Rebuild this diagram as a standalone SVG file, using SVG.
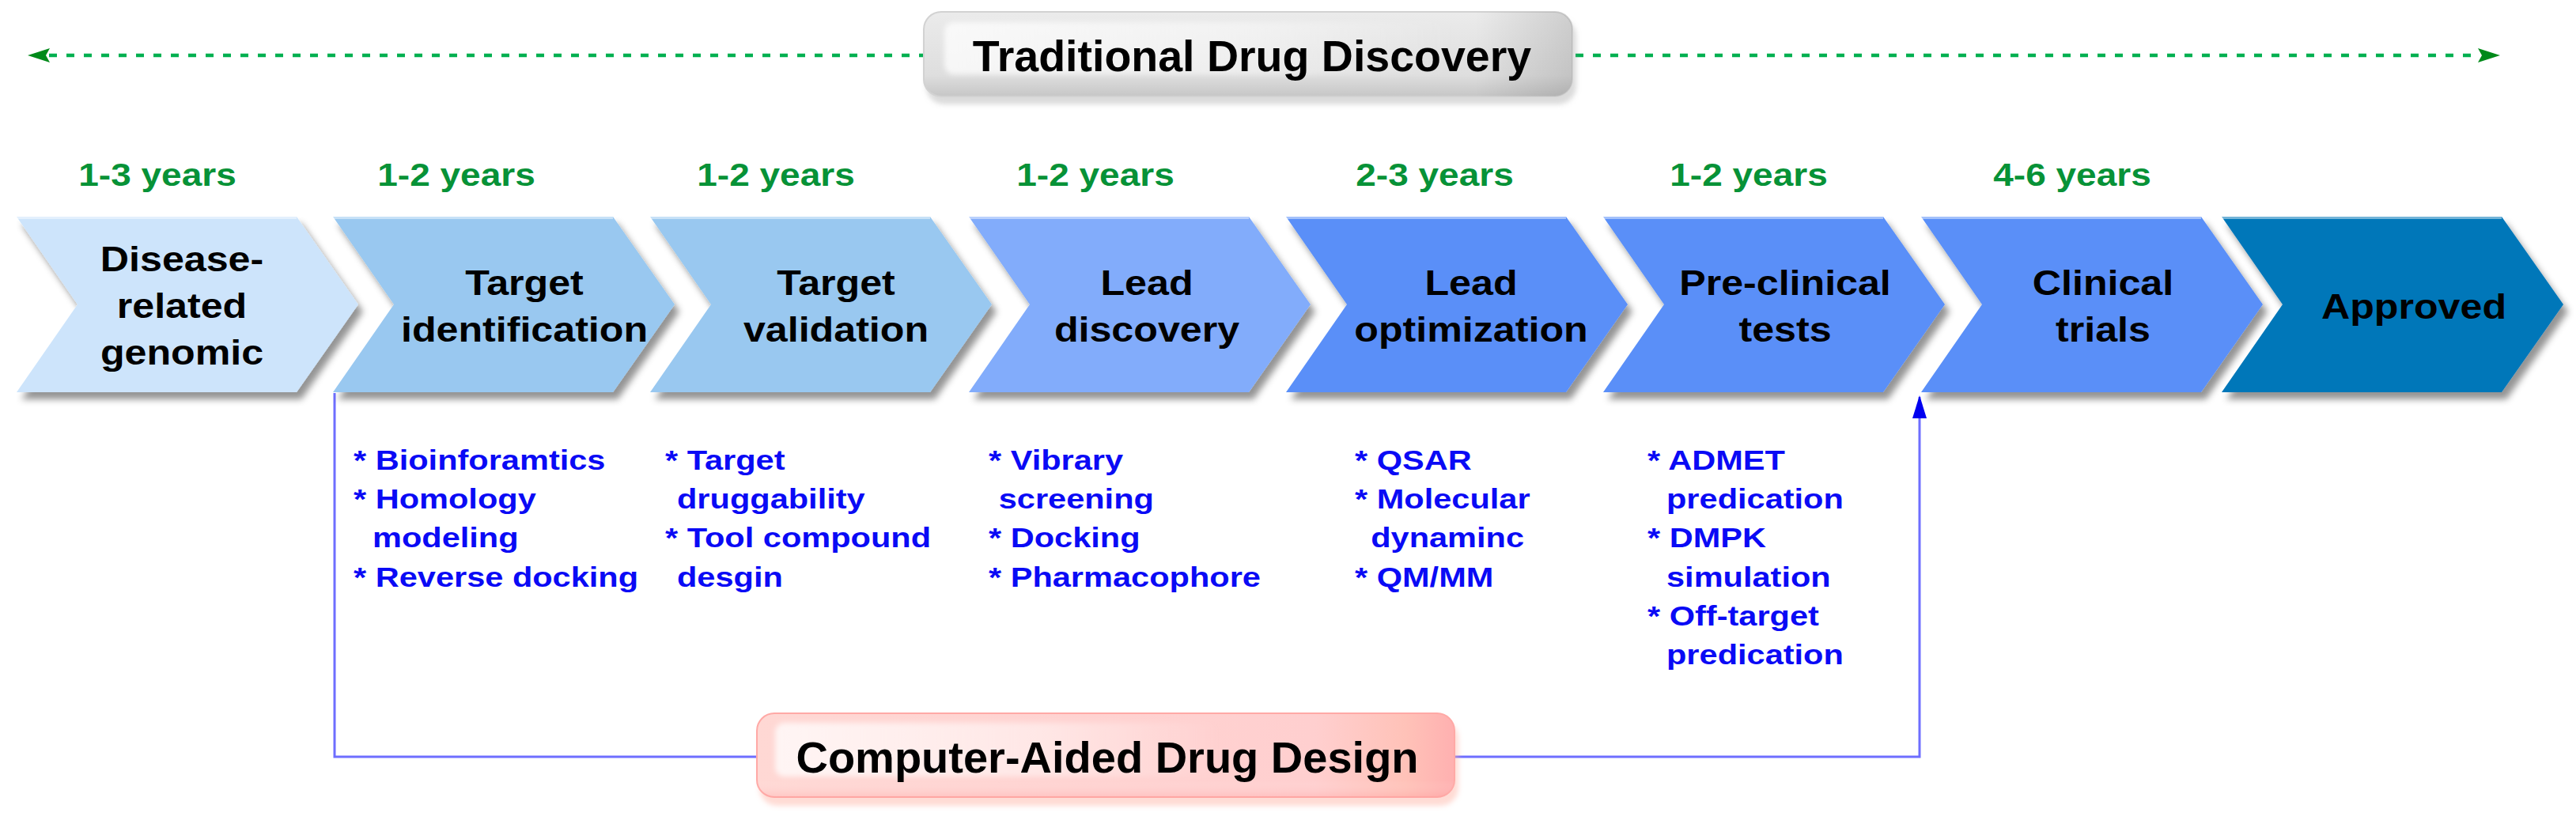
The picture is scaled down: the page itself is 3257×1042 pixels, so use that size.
<svg xmlns="http://www.w3.org/2000/svg" width="3257" height="1042" viewBox="0 0 3257 1042">
<defs>
<style>
text{font-family:"Liberation Sans",Arial,sans-serif;font-weight:bold}
.yr{font-size:40px;fill:#079237}
.ch{font-size:44px;fill:#000;text-anchor:middle}
.bl{font-size:36px;fill:#0a0af5}
.ttl{font-size:55.5px;fill:#000;text-anchor:middle}
.cad{font-size:56px;fill:#000;text-anchor:middle}
.hl{stroke:#ffffff;stroke-opacity:.45;stroke-width:3}
.dash{stroke:#00b050;stroke-width:4.5;stroke-dasharray:10 12;fill:none}
.link{stroke:#6e6eff;stroke-width:3;fill:none}
</style>
<path id="chev" d="M0,0 H354 L432,111 L354,222 H0 L77,111 Z"/>
<filter id="sh" x="-5%" y="-10%" width="115%" height="135%">
<feDropShadow dx="6" dy="9" stdDeviation="4" flood-color="#000" flood-opacity="0.42"/>
</filter>
<filter id="bsh" x="-5%" y="-10%" width="110%" height="140%">
<feDropShadow dx="4" dy="9" stdDeviation="3" flood-color="#999" flood-opacity="0.35"/>
</filter>
<filter id="psh" x="-5%" y="-10%" width="110%" height="140%">
<feDropShadow dx="4" dy="10" stdDeviation="3" flood-color="#ffb0a0" flood-opacity="0.45"/>
</filter>
<filter id="soft" x="-5%" y="-20%" width="110%" height="140%">
<feGaussianBlur stdDeviation="3"/>
</filter>
<linearGradient id="gGray" x1="0" y1="0" x2="0" y2="1">
<stop offset="0" stop-color="#ebebeb"/><stop offset="0.75" stop-color="#dedede"/><stop offset="1" stop-color="#c6c6c6"/>
</linearGradient>
<linearGradient id="gGrayR" x1="0" y1="0" x2="1" y2="0">
<stop offset="0" stop-color="#000" stop-opacity="0"/><stop offset="0.85" stop-color="#000" stop-opacity="0"/><stop offset="1" stop-color="#000" stop-opacity="0.12"/>
</linearGradient>
<linearGradient id="gWhite" x1="0" y1="0" x2="1" y2="0">
<stop offset="0" stop-color="#fff" stop-opacity="0.75"/><stop offset="0.6" stop-color="#fff" stop-opacity="0.45"/><stop offset="1" stop-color="#fff" stop-opacity="0"/>
</linearGradient>
<linearGradient id="gPink" x1="0" y1="0" x2="1" y2="0">
<stop offset="0" stop-color="#ffd8d4"/><stop offset="0.8" stop-color="#ffcfcf"/><stop offset="0.93" stop-color="#ffc2b8"/><stop offset="1" stop-color="#ffb0b0"/>
</linearGradient>
<linearGradient id="gPinkV" x1="0" y1="0" x2="0" y2="1">
<stop offset="0" stop-color="#fff" stop-opacity="0"/><stop offset="0.8" stop-color="#fff" stop-opacity="0"/><stop offset="1" stop-color="#ff9090" stop-opacity="0.25"/>
</linearGradient>
<marker id="arrB" viewBox="0 -9 29 18" markerWidth="29" markerHeight="18" refX="27" refY="0" orient="auto" markerUnits="userSpaceOnUse">
<path d="M0,-9 L29,0 L0,9 Z" fill="#0000f0"/>
</marker>
</defs>
<rect width="3257" height="1042" fill="#ffffff"/>

<g id="traditional-span">
<line class="dash" x1="62" y1="70" x2="1168" y2="70"/>
<line class="dash" x1="1992" y1="70" x2="3134" y2="70"/>
<polygon points="35,70 63,61 58,70 63,79" fill="#008a1a"/>
<polygon points="3161,70 3133,61 3138,70 3133,79" fill="#008a1a"/>
</g>

<g id="title-traditional">
<rect x="1168" y="15" width="820" height="107" rx="22" fill="url(#gGray)" stroke="#d2d2d2" stroke-width="2" filter="url(#bsh)"/>
<rect x="1168" y="15" width="820" height="107" rx="22" fill="url(#gGrayR)"/>
<rect x="1194" y="28" width="640" height="66" rx="12" fill="url(#gWhite)" filter="url(#soft)"/>
<text class="ttl" x="1583" y="90">Traditional Drug Discovery</text>
</g>

<g id="years">
<text class="yr" transform="translate(199,235) scale(1.15,1)" text-anchor="middle">1-3 years</text>
<text class="yr" transform="translate(577,235) scale(1.15,1)" text-anchor="middle">1-2 years</text>
<text class="yr" transform="translate(981,235) scale(1.15,1)" text-anchor="middle">1-2 years</text>
<text class="yr" transform="translate(1385,235) scale(1.15,1)" text-anchor="middle">1-2 years</text>
<text class="yr" transform="translate(1814,235) scale(1.15,1)" text-anchor="middle">2-3 years</text>
<text class="yr" transform="translate(2211,235) scale(1.15,1)" text-anchor="middle">1-2 years</text>
<text class="yr" transform="translate(2620,235) scale(1.15,1)" text-anchor="middle">4-6 years</text>
</g>

<g id="connectors">
<path class="link" d="M423,497 V957 H957"/>
<path class="link" d="M1838,957 H2427 V502" marker-end="url(#arrB)"/>
</g>

<g id="node-disease">
<use href="#chev" x="21" y="274" fill="#cde4fb" filter="url(#sh)"/>
<line class="hl" x1="21" y1="275.5" x2="375" y2="275.5"/>
<text class="ch" transform="translate(230,0) scale(1.14,1)"><tspan x="0" y="343">Disease-</tspan><tspan x="0" y="402">related</tspan><tspan x="0" y="461">genomic</tspan></text>
</g>
<g id="node-target-identification">
<use href="#chev" x="421" y="274" fill="#99c8f0" filter="url(#sh)"/>
<line class="hl" x1="421" y1="275.5" x2="775" y2="275.5"/>
<text class="ch" transform="translate(663,0) scale(1.14,1)"><tspan x="0" y="373">Target</tspan><tspan x="0" y="432">identification</tspan></text>
</g>
<g id="node-target-validation">
<use href="#chev" x="822" y="274" fill="#99c8f0" filter="url(#sh)"/>
<line class="hl" x1="822" y1="275.5" x2="1176" y2="275.5"/>
<text class="ch" transform="translate(1057,0) scale(1.14,1)"><tspan x="0" y="373">Target</tspan><tspan x="0" y="432">validation</tspan></text>
</g>
<g id="node-lead-discovery">
<use href="#chev" x="1225" y="274" fill="#82acfb" filter="url(#sh)"/>
<line class="hl" x1="1225" y1="275.5" x2="1579" y2="275.5"/>
<text class="ch" transform="translate(1450,0) scale(1.14,1)"><tspan x="0" y="373">Lead</tspan><tspan x="0" y="432">discovery</tspan></text>
</g>
<g id="node-lead-optimization">
<use href="#chev" x="1626" y="274" fill="#5a8ff8" filter="url(#sh)"/>
<line class="hl" x1="1626" y1="275.5" x2="1980" y2="275.5"/>
<text class="ch" transform="translate(1860,0) scale(1.14,1)"><tspan x="0" y="373">Lead</tspan><tspan x="0" y="432">optimization</tspan></text>
</g>
<g id="node-preclinical">
<use href="#chev" x="2027" y="274" fill="#5a8ff8" filter="url(#sh)"/>
<line class="hl" x1="2027" y1="275.5" x2="2381" y2="275.5"/>
<text class="ch" transform="translate(2257,0) scale(1.14,1)"><tspan x="0" y="373">Pre-clinical</tspan><tspan x="0" y="432">tests</tspan></text>
</g>
<g id="node-clinical">
<use href="#chev" x="2429" y="274" fill="#5a8ff8" filter="url(#sh)"/>
<line class="hl" x1="2429" y1="275.5" x2="2783" y2="275.5"/>
<text class="ch" transform="translate(2659,0) scale(1.14,1)"><tspan x="0" y="373">Clinical</tspan><tspan x="0" y="432">trials</tspan></text>
</g>
<g id="node-approved">
<use href="#chev" x="2809" y="274" fill="#0077b9" filter="url(#sh)"/>
<line class="hl" x1="2809" y1="275.5" x2="3163" y2="275.5" stroke-opacity=".25"/>
<text class="ch" transform="translate(3052,403) scale(1.14,1)" x="0" y="0">Approved</text>
</g>

<g id="list-target-identification" transform="translate(447,0) scale(1.154,1)">
<text class="bl"><tspan x="0" y="594">* Bioinforamtics</tspan><tspan x="0" y="643">* Homology</tspan><tspan x="20.8" y="692">modeling</tspan><tspan x="0" y="742">* Reverse docking</tspan></text>
</g>
<g id="list-target-validation" transform="translate(841,0) scale(1.154,1)">
<text class="bl"><tspan x="0" y="594">* Target</tspan><tspan x="13" y="643">druggability</tspan><tspan x="0" y="692">* Tool compound</tspan><tspan x="13" y="742">desgin</tspan></text>
</g>
<g id="list-lead-discovery" transform="translate(1250,0) scale(1.154,1)">
<text class="bl"><tspan x="0" y="594">* Vibrary</tspan><tspan x="11" y="643">screening</tspan><tspan x="0" y="692">* Docking</tspan><tspan x="0" y="742">* Pharmacophore</tspan></text>
</g>
<g id="list-lead-optimization" transform="translate(1713,0) scale(1.154,1)">
<text class="bl"><tspan x="0" y="594">* QSAR</tspan><tspan x="0" y="643">* Molecular</tspan><tspan x="17.5" y="692">dynaminc</tspan><tspan x="0" y="742">* QM/MM</tspan></text>
</g>
<g id="list-preclinical" transform="translate(2083,0) scale(1.154,1)">
<text class="bl"><tspan x="0" y="594">* ADMET</tspan><tspan x="20.8" y="643">predication</tspan><tspan x="0" y="692">* DMPK</tspan><tspan x="20.8" y="742">simulation</tspan><tspan x="0" y="791">* Off-target</tspan><tspan x="20.8" y="840">predication</tspan></text>
</g>

<g id="title-cadd">
<rect x="957" y="902" width="882" height="106" rx="22" fill="url(#gPink)" stroke="#ffa9a6" stroke-width="2" filter="url(#psh)"/>
<rect x="957" y="902" width="882" height="106" rx="22" fill="url(#gPinkV)"/>
<rect x="980" y="914" width="560" height="68" rx="12" fill="url(#gWhite)" filter="url(#soft)"/>
<text class="cad" x="1400" y="977">Computer-Aided Drug Design</text>
</g>
</svg>
